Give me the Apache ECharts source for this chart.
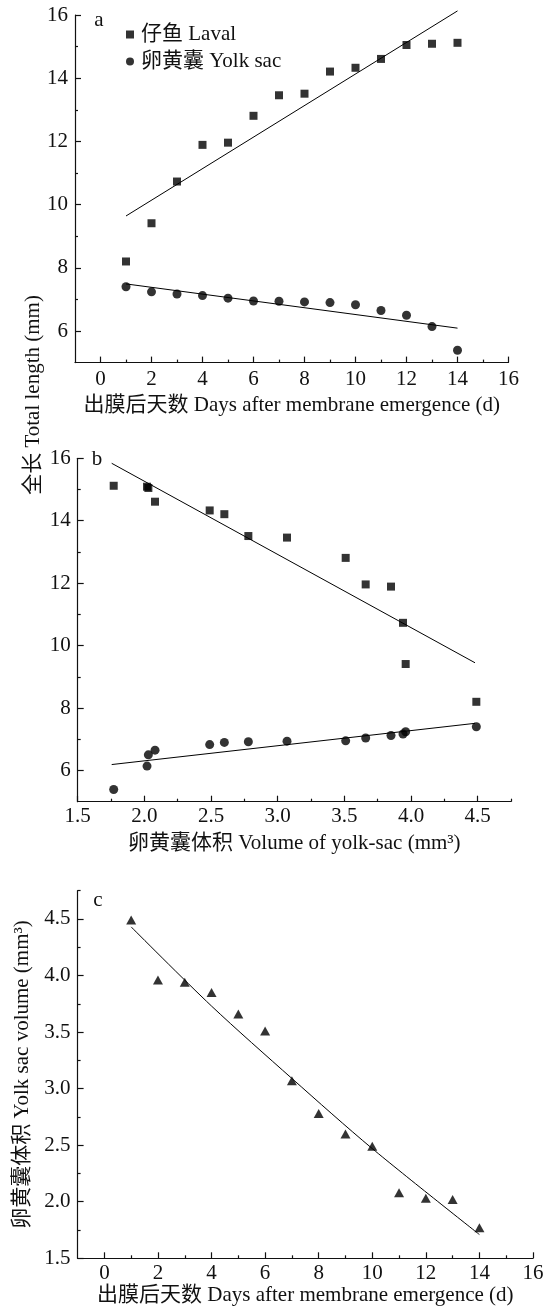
<!DOCTYPE html>
<html>
<head>
<meta charset="utf-8">
<script src="https://cdn.jsdelivr.net/npm/echarts@6/dist/echarts.min.js"></script>
<style>
  html, body { margin: 0; padding: 0; background: #fff; }
  #chart { width: 553px; height: 1310px; }
</style>
</head>
<body>
<div id="chart"></div>
<script>
// days after membrane emergence
const days = [1, 2, 3, 4, 5, 6, 7, 8, 9, 10, 11, 12, 13, 14];
// total length (mm)
const lavalLength = [8.20, 9.41, 10.73, 11.89, 11.96, 12.81, 13.46, 13.51, 14.21, 14.33, 14.61, 15.05, 15.09, 15.12];
const yolkSacLength = [7.40, 7.24, 7.17, 7.12, 7.04, 6.95, 6.94, 6.92, 6.90, 6.83, 6.65, 6.50, 6.14, 5.39];
// yolk sac volume (mm3)
const yolkVolume = [4.49, 3.96, 3.94, 3.85, 3.66, 3.51, 3.07, 2.78, 2.60, 2.49, 2.08, 2.03, 2.02, 1.77];

// fitted lines
const fitLavalByDay = [[1, 9.64], [14, 16.13]];
const fitYolkByDay = [[1, 7.49], [14, 6.09]];
const fitLavalByVolume = [[1.755, 15.84], [4.48, 9.45]];
const fitYolkByVolume = [[1.755, 6.19], [4.48, 7.51]];
const fitVolumeByDay = [[1, 4.43], [4, 3.73], [7, 3.09], [10, 2.47], [14, 1.71]];

// ticks
const dayTicks = [0, 2, 4, 6, 8, 10, 12, 14, 16];
const dayMinorTicks = [1, 3, 5, 7, 9, 11, 13, 15];
const lengthTicks = [6, 8, 10, 12, 14, 16];
const lengthMinorTicks = [7, 9, 11, 13, 15];
const volumeTicks = [1.5, 2.0, 2.5, 3.0, 3.5, 4.0, 4.5];
const volumeMinorTicks = [1.75, 2.25, 2.75, 3.25, 3.75, 4.25, 4.75];

const FONT = "'Liberation Serif', 'Times New Roman', 'Noto Sans CJK SC', serif";
const FS = 21;
const INK = '#111';

const chart = echarts.init(document.getElementById('chart'), null, {renderer: 'canvas'});

function mainAxis(dim, grid, min, max, ticks, opts) {
  opts = opts || {};
  return Object.assign({
    type: 'value',
    gridIndex: grid,
    position: dim === 'x' ? 'bottom' : 'left',
    min: min,
    max: max,
    splitLine: {show: false},
    axisLine: {onZero: false, lineStyle: {color: INK, width: 1.2}},
    axisTick: {inside: true, length: 6, customValues: ticks, lineStyle: {color: INK, width: 1.2}},
    axisLabel: {
      customValues: ticks,
      margin: opts.margin || 7,
      color: INK,
      fontSize: FS,
      fontFamily: FONT,
      formatter: opts.formatter || (v => String(v))
    },
    nameTextStyle: {color: INK, fontSize: FS, fontFamily: FONT}
  }, opts.extra || {});
}

function minorAxis(dim, grid, min, max, ticks) {
  return {
    type: 'value',
    gridIndex: grid,
    position: dim === 'x' ? 'bottom' : 'left',
    min: min,
    max: max,
    splitLine: {show: false},
    axisLine: {show: false, onZero: false},
    axisLabel: {show: false},
    axisTick: {inside: true, length: 3, customValues: ticks, lineStyle: {color: INK, width: 1.2}}
  };
}

const oneDecimal = v => v.toFixed(1);

function scatter(name, x, y, xi, symbol, size) {
  return {
    type: 'scatter',
    name: name,
    xAxisIndex: xi,
    yAxisIndex: xi,
    symbol: symbol,
    symbolSize: size,
    itemStyle: {color: '#000'},
    data: x.map((v, i) => [v, y[i]])
  };
}

function fit(data, xi, smooth) {
  return {
    type: 'line',
    xAxisIndex: xi,
    yAxisIndex: xi,
    data: data,
    smooth: smooth || false,
    showSymbol: false,
    clip: false,
    lineStyle: {color: '#000', width: 1},
    silent: true
  };
}

function label(text, x, y, rotation) {
  return {
    type: 'text', x: x, y: y, rotation: rotation || 0,
    style: {text: text, font: FS + 'px ' + FONT, fill: INK,
      align: 'center', verticalAlign: 'middle', textAlign: 'center', textVerticalAlign: 'middle'}
  };
}

const option = {
  animation: false,
  backgroundColor: '#fff',
  textStyle: {fontFamily: FONT},
  grid: [
    {left: 75, top: 15, width: 433.5, height: 347.6, outerBoundsMode: 'none'},
    {left: 77.7, top: 458.3, width: 433.3, height: 343.4, outerBoundsMode: 'none'},
    {left: 77.6, top: 890.7, width: 455.4, height: 367.6, outerBoundsMode: 'none'}
  ],
  legend: {
    orient: 'vertical',
    left: 126,
    top: 24,
    padding: 0,
    itemWidth: 8,
    itemHeight: 8,
    itemGap: 6,
    textStyle: {color: INK, fontSize: FS, fontFamily: FONT, padding: [0, 0, 0, 2]},
    data: [
      {name: '仔鱼 Laval', icon: 'rect'},
      {name: '卵黄囊 Yolk sac', icon: 'circle'}
    ]
  },
  xAxis: [
    mainAxis('x', 0, -1, 16, dayTicks, {margin: 6, extra: {
      name: '出膜后天数 Days after membrane emergence (d)', nameLocation: 'middle', nameGap: 32
    }}),
    minorAxis('x', 0, -1, 16, dayMinorTicks),
    mainAxis('x', 1, 1.5, 4.75, volumeTicks, {margin: 4, formatter: oneDecimal, extra: {
      name: '卵黄囊体积 Volume of yolk-sac (mm³)', nameLocation: 'middle', nameGap: 31
    }}),
    minorAxis('x', 1, 1.5, 4.75, volumeMinorTicks),
    mainAxis('x', 2, -1, 16, dayTicks, {margin: 5, extra: {
      name: '出膜后天数 Days after membrane emergence (d)', nameLocation: 'middle', nameGap: 26
    }}),
    minorAxis('x', 2, -1, 16, dayMinorTicks)
  ],
  yAxis: [
    mainAxis('y', 0, 5, 16, lengthTicks),
    minorAxis('y', 0, 5, 16, lengthMinorTicks),
    mainAxis('y', 1, 5, 16, lengthTicks),
    minorAxis('y', 1, 5, 16, lengthMinorTicks),
    mainAxis('y', 2, 1.5, 4.75, volumeTicks, {formatter: oneDecimal, extra: {
      name: '卵黄囊体积 Yolk sac volume (mm³)', nameLocation: 'middle', nameRotate: 90, nameGap: 42
    }}),
    minorAxis('y', 2, 1.5, 4.75, volumeMinorTicks)
  ],
  graphic: [
    label('全长 Total length (mm)', 33, 395, Math.PI / 2),
    label('a', 99, 20),
    label('b', 97, 459),
    label('c', 98, 900)
  ],
  series: [
    scatter('仔鱼 Laval', days, lavalLength, 0, 'rect', 8),
    scatter('卵黄囊 Yolk sac', days, yolkSacLength, 0, 'circle', 9),
    fit(fitLavalByDay, 0),
    fit(fitYolkByDay, 0),

    scatter('仔鱼 Laval', yolkVolume, lavalLength, 2, 'rect', 8),
    scatter('卵黄囊 Yolk sac', yolkVolume, yolkSacLength, 2, 'circle', 9),
    fit(fitLavalByVolume, 2),
    fit(fitYolkByVolume, 2),

    scatter('Yolk sac volume', days, yolkVolume, 4, 'triangle', [10, 9]),
    fit(fitVolumeByDay, 4, 0.3)
  ]
};

chart.setOption(option);
</script>
</body>
</html>
